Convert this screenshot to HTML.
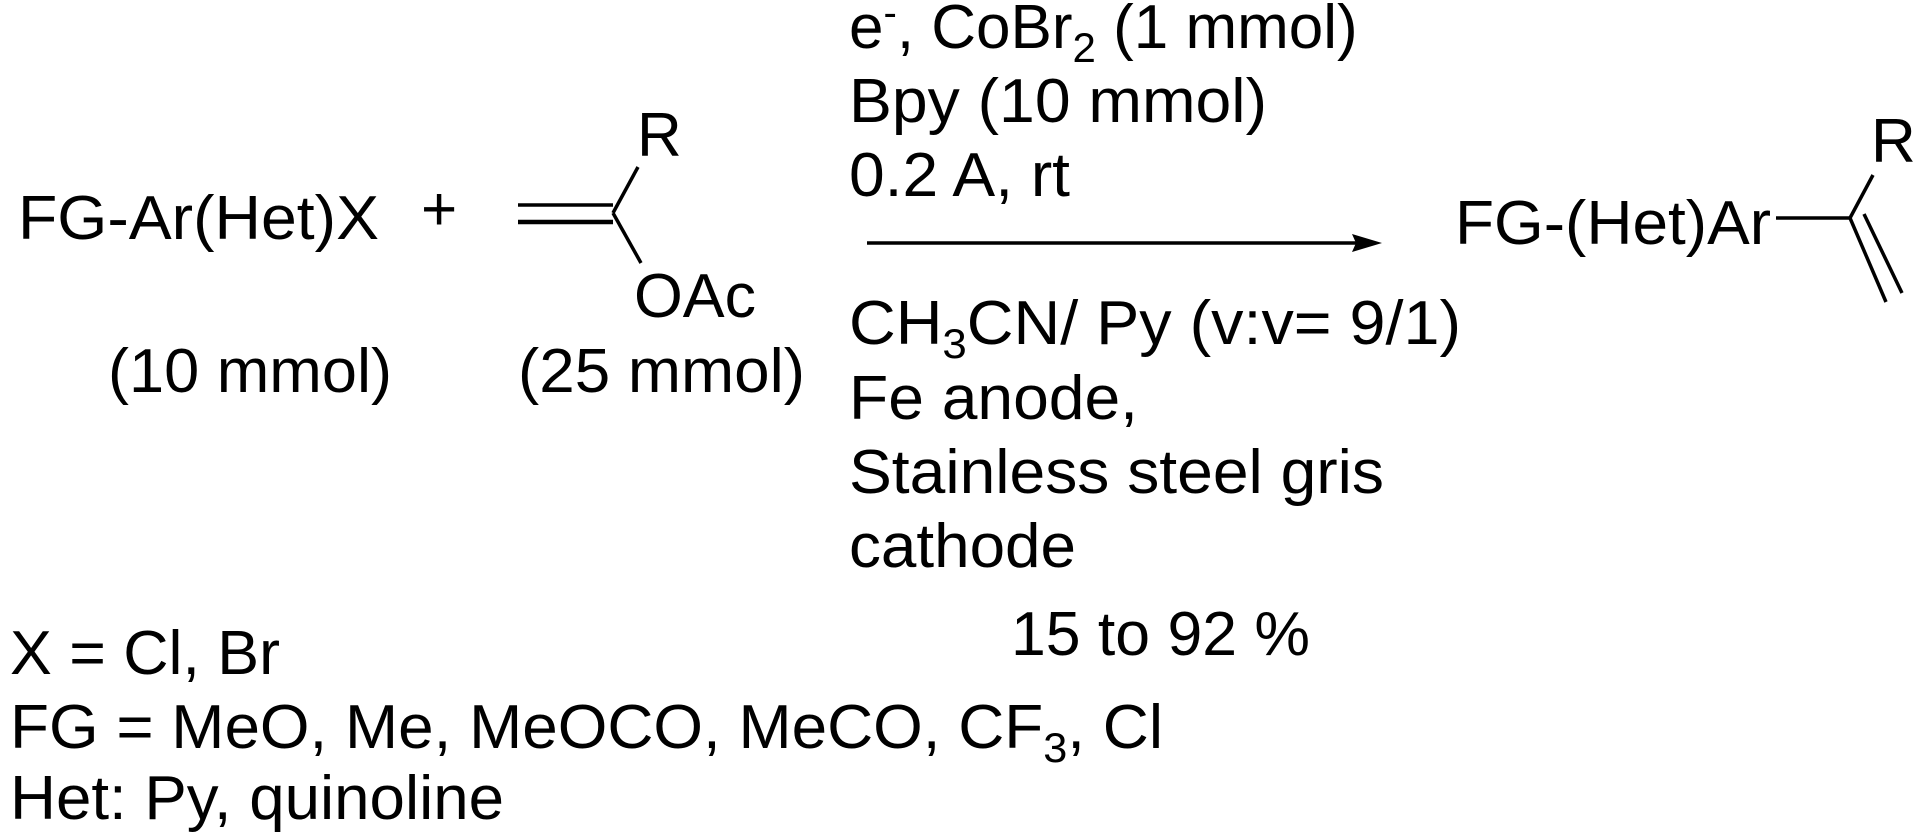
<!DOCTYPE html>
<html><head><meta charset="utf-8"><style>
html,body{margin:0;padding:0;background:#fff;}
svg{display:block;}
text{font-family:"Liberation Sans",Arial,sans-serif;font-size:62px;fill:#000;}
</style></head><body>
<svg width="1920" height="838" viewBox="0 0 1920 838" xmlns="http://www.w3.org/2000/svg">
<g stroke="#000" stroke-width="3.5" fill="none">
<line x1="518" y1="205" x2="613" y2="205"/>
<line x1="518" y1="222" x2="613" y2="222" stroke-width="4.5"/>
<line x1="613" y1="213" x2="638" y2="167"/>
<line x1="613" y1="213" x2="641" y2="263"/>
<line x1="867" y1="243" x2="1360" y2="243"/>
<line x1="1776" y1="218" x2="1850" y2="218"/>
<line x1="1850" y1="218" x2="1873" y2="175"/>
<line x1="1850" y1="218" x2="1886" y2="302"/>
<line x1="1864" y1="214" x2="1902" y2="293"/>
</g>
<polygon points="1382,243 1352,234 1356,243 1352,252" fill="#000"/>
<text x="18" y="239" textLength="361" lengthAdjust="spacingAndGlyphs">FG-Ar(Het)X</text>
<text x="421" y="230" style="font-size:62px">+</text>
<text x="637" y="156">R</text>
<text x="634" y="317" textLength="122" lengthAdjust="spacingAndGlyphs">OAc</text>
<text x="108" y="392" textLength="284" lengthAdjust="spacingAndGlyphs">(10 mmol)</text>
<text x="518" y="392" textLength="287" lengthAdjust="spacingAndGlyphs">(25 mmol)</text>
<text x="849" y="48">e<tspan dy="-22" style="font-size:40px">-</tspan><tspan dy="22">, CoBr</tspan><tspan dy="14" style="font-size:42px">2</tspan><tspan dy="-14"> (1 mmol)</tspan></text>
<text x="849" y="122" textLength="418" lengthAdjust="spacingAndGlyphs">Bpy (10 mmol)</text>
<text x="849" y="196" textLength="221" lengthAdjust="spacingAndGlyphs">0.2 A, rt</text>
<text x="849" y="344" textLength="612" lengthAdjust="spacingAndGlyphs">CH<tspan dy="14" style="font-size:42px">3</tspan><tspan dy="-14">CN/ Py (v:v= 9/1)</tspan></text>
<text x="849" y="419" textLength="289" lengthAdjust="spacingAndGlyphs">Fe anode,</text>
<text x="849" y="493" textLength="535" lengthAdjust="spacingAndGlyphs">Stainless steel gris</text>
<text x="849" y="567" textLength="227" lengthAdjust="spacingAndGlyphs">cathode</text>
<text x="1011" y="655" textLength="299" lengthAdjust="spacingAndGlyphs">15 to 92 %</text>
<text x="1455" y="244" textLength="316" lengthAdjust="spacingAndGlyphs">FG-(Het)Ar</text>
<text x="1871" y="162">R</text>
<text x="10" y="674" textLength="270" lengthAdjust="spacingAndGlyphs">X = Cl, Br</text>
<text x="10" y="748" textLength="1153" lengthAdjust="spacingAndGlyphs">FG = MeO, Me, MeOCO, MeCO, CF<tspan dy="14" style="font-size:42px">3</tspan><tspan dy="-14">, Cl</tspan></text>
<text x="10" y="819" textLength="494" lengthAdjust="spacingAndGlyphs">Het: Py, quinoline</text>
</svg>
</body></html>
